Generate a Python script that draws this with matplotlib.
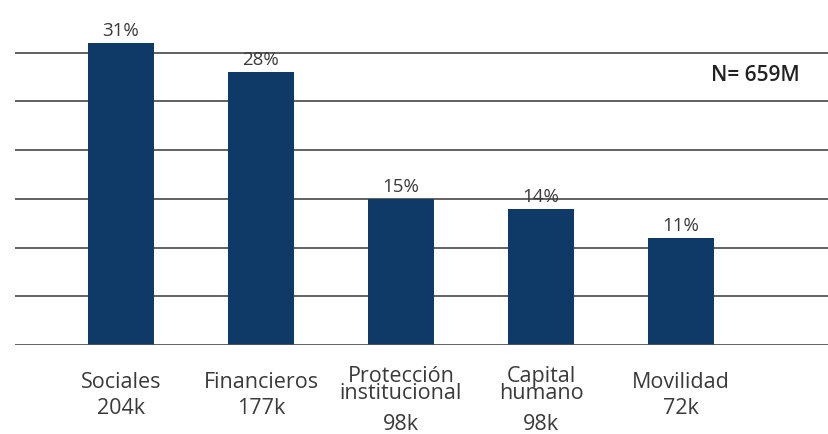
import matplotlib
matplotlib.use("Agg")
import matplotlib.pyplot as plt

categories = ["Sociales", "Financieros", "Protección\ninstitucional", "Capital\nhumano", "Movilidad"]
values = [31, 28, 15, 14, 11]
counts = ["204k", "177k", "98k", "98k", "72k"]
pct_labels = ["31%", "28%", "15%", "14%", "11%"]
n_label = "N= 659M"

plt.rcParams["font.family"] = ["Open Sans", "DejaVu Sans"]

fig = plt.figure(figsize=(8.29, 4.34), dpi=100)
ax = fig.add_axes([15/829, (434-345)/434, 1-15/829, 345/434])

bar_color = "#0f3a67"
grid_color = "#555555"
text_color = "#3a3a3a"

for y in [5, 10, 15, 20, 25, 30]:
    ax.axhline(y, color=grid_color, lw=1.3, zorder=1)
ax.axhline(0, color=grid_color, lw=1.3, zorder=3)

x = list(range(len(categories)))
ax.bar(x, values, width=0.47, color=bar_color, zorder=2)

for i, (v, lab) in enumerate(zip(values, pct_labels)):
    ax.annotate(lab, xy=(i, v), xytext=(0, 2), textcoords="offset points",
                ha="center", va="bottom", fontsize=13.5, color=text_color)

for i, (name, cnt) in enumerate(zip(categories, counts)):
    nlines = name.count("\n") + 1
    ax.annotate(name, xy=(i, 0), xycoords=("data", "axes fraction"),
                xytext=(0, -27 - 1.5*(nlines-1)), textcoords="offset points",
                ha="center", va="center", fontsize=15.5, color=text_color,
                linespacing=0.75)
    ax.annotate(cnt, xy=(i, 0), xycoords=("data", "axes fraction"),
                xytext=(0, -45.5 - 12*(nlines-1)), textcoords="offset points",
                ha="center", va="center", fontsize=15.5, color=text_color)

ax.text(4.85, 27.6, n_label, ha="right", va="center", fontsize=15,
        fontweight="semibold", color="#222222")

ax.set_xlim(-0.757, 5.057)
ax.set_ylim(0, 345/9.75)
ax.axis("off")

fig.savefig("out.png", dpi=100)
